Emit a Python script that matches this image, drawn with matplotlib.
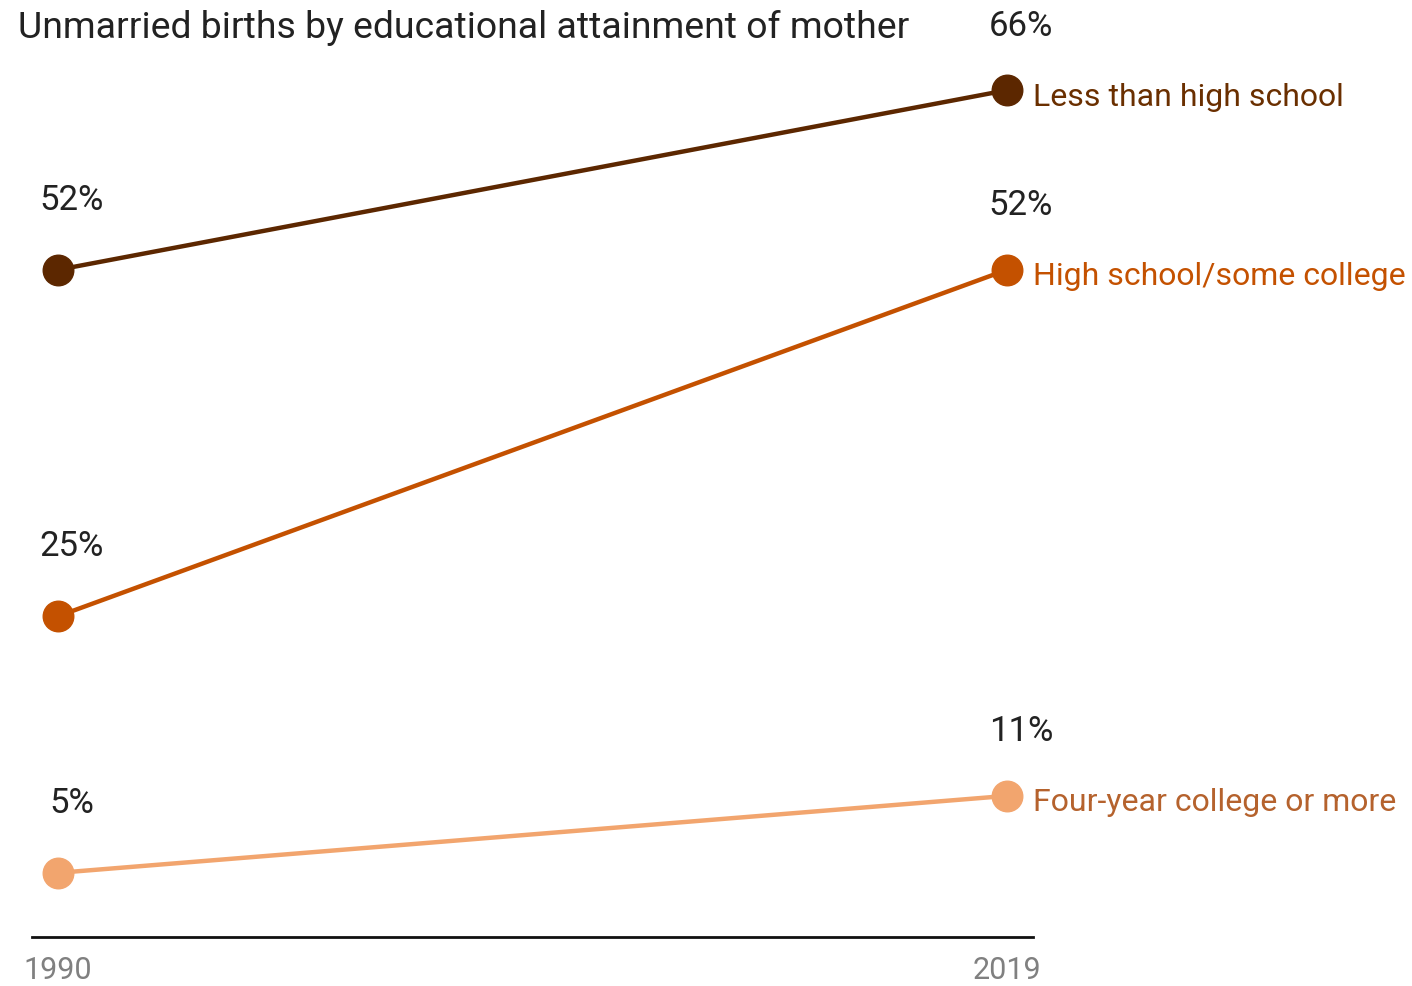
import matplotlib

matplotlib.use("Agg")
import matplotlib.pyplot as plt

years = [1990, 2019]
categories = ["Less than high school", "High school/some college",
              "Four-year college or more"]
values = {
    "Less than high school": [52, 66],
    "High school/some college": [25, 52],
    "Four-year college or more": [5, 11],
}
line_colors = ["#5c2700", "#c45100", "#f2a56e"]
text_colors = ["#6a2f00", "#c45100", "#b5622d"]

plt.rcParams["font.family"] = ["Roboto", "DejaVu Sans"]

fig = plt.figure(figsize=(14.12, 9.86), dpi=100)
ax = fig.add_axes([32 / 1412, 1 - 937 / 986, 1001 / 1412, 937 / 986])
ax.set_xlim(1989.205, 2019.795)
ax.set_ylim(0, 73.03)

for cat, lc, tc in zip(categories, line_colors, text_colors):
    vals = values[cat]
    ax.plot(years, vals, color=lc, lw=3.2, marker="o", ms=22,
            solid_capstyle="round", clip_on=False, zorder=3)
    for yr, v in zip(years, vals):
        dy = 50 if yr == years[0] else 46
        ax.annotate(f"{v}%", (yr, v), xytext=(10, dy),
                    textcoords="offset points", ha="center", va="center",
                    fontsize=25, color="#222222")
    ax.annotate(cat, (years[-1], vals[-1]), xytext=(19, -5),
                textcoords="offset points", ha="left", va="center",
                fontsize=23, color=tc, annotation_clip=False)

for side in ["top", "right", "left"]:
    ax.spines[side].set_visible(False)
ax.spines["bottom"].set_linewidth(2)
ax.spines["bottom"].set_color("#111111")
ax.set_yticks([])
ax.set_xticks(years)
ax.set_xticklabels([str(y) for y in years])
ax.tick_params(axis="x", length=0, pad=14, labelsize=22, labelcolor="#808080")

fig.text(18 / 1412, 1 - 28 / 986, "Unmarried births by educational attainment of mother",
         ha="left", va="center", fontsize=26.9, color="#222222")

fig.savefig("out.png", dpi=100)
